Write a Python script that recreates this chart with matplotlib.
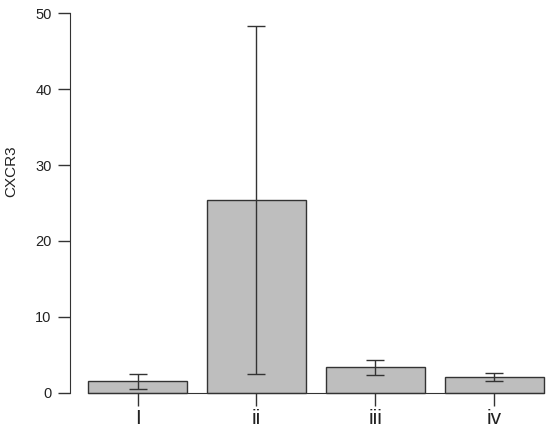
import matplotlib
matplotlib.use("Agg")
import matplotlib.pyplot as plt
import numpy as np

plt.rcParams['font.family'] = ['Liberation Sans', 'DejaVu Sans']

categories = ["I", "ii", "iii", "iv"]
means = [1.48, 25.4, 3.35, 2.05]
errors = [0.98, 22.95, 1.0, 0.55]
yticks = [0, 10, 20, 30, 40, 50]

W, H = 550, 436
fig = plt.figure(figsize=(W / 100, H / 100), dpi=100)

# R-style barplot geometry: width 1, space 0.2
width = 1.0
space = 0.2
n = len(categories)
lefts = np.array([space + i * (width + space) for i in range(n)])
centers = lefts + width / 2
xmin, xmax = lefts[0], lefts[-1] + width
xr = xmax - xmin
xlim = (xmin - 0.04 * xr, xmax + 0.04 * xr)
ylim = (-2, 52)

# place axes so that data maps to reference pixels
px_per_unit = 99.1
x_left_px = 88 - (xmin - xlim[0]) * px_per_unit
ax_w_px = (xlim[1] - xlim[0]) * px_per_unit
py_per_unit = 7.59
y0_px = 392.7
y_bot_px = y0_px + 2 * py_per_unit
y_top_px = y0_px - 52 * py_per_unit
ax = fig.add_axes([x_left_px / W, (H - y_bot_px) / H, ax_w_px / W, (y_bot_px - y_top_px) / H])
ax.patch.set_alpha(0)

edge = "#333333"
ax.bar(centers, means, width=width, color="#BEBEBE", edgecolor=edge, linewidth=1.0, zorder=2)
ax.errorbar(centers, means, yerr=errors, fmt="none", ecolor=edge, elinewidth=1.0,
            capsize=6.5, capthick=1.0, zorder=3)

ax.set_xlim(*xlim)
ax.set_ylim(*ylim)

for s in ["top", "right"]:
    ax.spines[s].set_visible(False)
ax.spines["left"].set_bounds(yticks[0], yticks[-1])
ax.spines["left"].set_color(edge)
ax.spines["bottom"].set_position(("data", 0))
ax.spines["bottom"].set_bounds(xmin, xmax)
ax.spines["bottom"].set_color(edge)

ax.set_yticks(yticks)
ax.set_yticklabels([str(t) for t in yticks], fontsize=10.5, color="#222222")
ax.tick_params(axis="y", length=9, width=1.0, color=edge, pad=4)
ax.set_xticks(centers)
ax.set_xticklabels(categories, fontsize=15, color="#222222")
ax.tick_params(axis="x", length=9, width=1.0, color=edge, pad=3)

fig.text(11 / W, 1 - 171 / H, "CXCR3", rotation=90, ha="center", va="center",
         fontsize=11, color="#222222")

fig.savefig("out.png", dpi=100)
